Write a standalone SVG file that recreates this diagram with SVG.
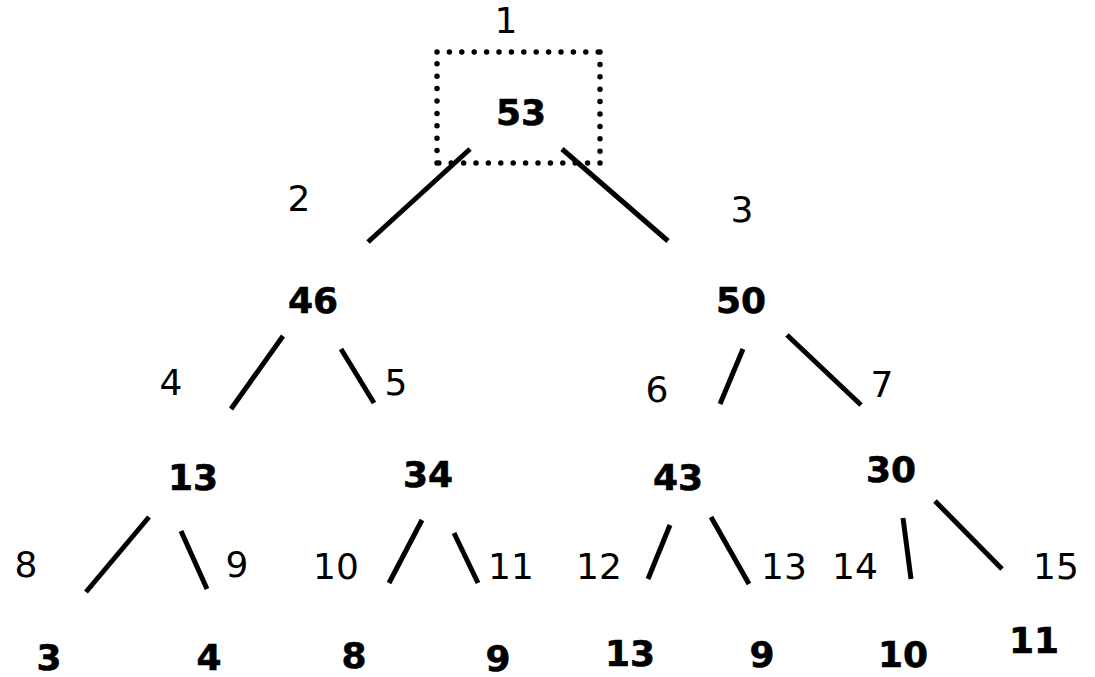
<svg xmlns="http://www.w3.org/2000/svg" width="1095" height="677" viewBox="0 0 1095 677">
<style>
.n{font-family:"DejaVu Sans",Verdana,sans-serif;font-weight:bold;font-size:36px;fill:#000;text-anchor:middle;stroke:#000;stroke-width:0.6}
.l{font-family:"DejaVu Sans",Verdana,sans-serif;font-size:36px;fill:#000;text-anchor:middle}
.e{stroke:#000;stroke-width:5;fill:none;stroke-linecap:butt}
.dot{stroke:#000;stroke-width:5.5;fill:none;stroke-linecap:round;stroke-dasharray:0 12.4}
</style>
<rect width="1095" height="677" fill="#fff"/>
<g id="root">
<path class="dot" d="M437,52H600M600,52V163M600,163H437M437,163V52"/>
<text class="n" x="521" y="125">53</text>
<text class="l" x="506" y="33">1</text>
</g>
<g id="n2"><text class="n" x="313" y="313">46</text><text class="l" x="299" y="211">2</text></g>
<g id="n3"><text class="n" x="741" y="313">50</text><text class="l" x="742" y="222">3</text></g>
<g id="n4"><text class="n" x="193" y="490">13</text><text class="l" x="171" y="395">4</text></g>
<g id="n5"><text class="n" x="428" y="487">34</text><text class="l" x="396" y="395">5</text></g>
<g id="n6"><text class="n" x="678" y="490">43</text><text class="l" x="657" y="402">6</text></g>
<g id="n7"><text class="n" x="891" y="482">30</text><text class="l" x="882" y="397">7</text></g>
<g id="n8"><text class="n" x="49" y="670">3</text><text class="l" x="26" y="577">8</text></g>
<g id="n9"><text class="n" x="209" y="670">4</text><text class="l" x="237" y="577">9</text></g>
<g id="n10"><text class="n" x="354" y="668">8</text><text class="l" x="336" y="579">10</text></g>
<g id="n11"><text class="n" x="498" y="671">9</text><text class="l" x="511" y="579">11</text></g>
<g id="n12"><text class="n" x="630" y="666">13</text><text class="l" x="599" y="579">12</text></g>
<g id="n13"><text class="n" x="762" y="667">9</text><text class="l" x="784" y="579">13</text></g>
<g id="n14"><text class="n" x="903" y="667">10</text><text class="l" x="855" y="579">14</text></g>
<g id="n15"><text class="n" x="1034" y="653">11</text><text class="l" x="1056" y="579">15</text></g>
<g id="connectors">
<line class="e" x1="470" y1="149" x2="368" y2="242"/>
<line class="e" x1="562" y1="149" x2="668" y2="241"/>
<line class="e" x1="283" y1="336" x2="231" y2="409"/>
<line class="e" x1="341" y1="349" x2="374" y2="403"/>
<line class="e" x1="743" y1="349" x2="720" y2="404"/>
<line class="e" x1="787" y1="335" x2="861" y2="405"/>
<line class="e" x1="149" y1="517" x2="86" y2="592"/>
<line class="e" x1="181" y1="531" x2="207" y2="589"/>
<line class="e" x1="422" y1="520" x2="389" y2="583"/>
<line class="e" x1="454" y1="533" x2="478" y2="583"/>
<line class="e" x1="670" y1="525" x2="648" y2="579"/>
<line class="e" x1="711" y1="517" x2="749" y2="584"/>
<line class="e" x1="903" y1="518" x2="911" y2="579"/>
<line class="e" x1="935" y1="501" x2="1002" y2="569"/>
</g>
</svg>
